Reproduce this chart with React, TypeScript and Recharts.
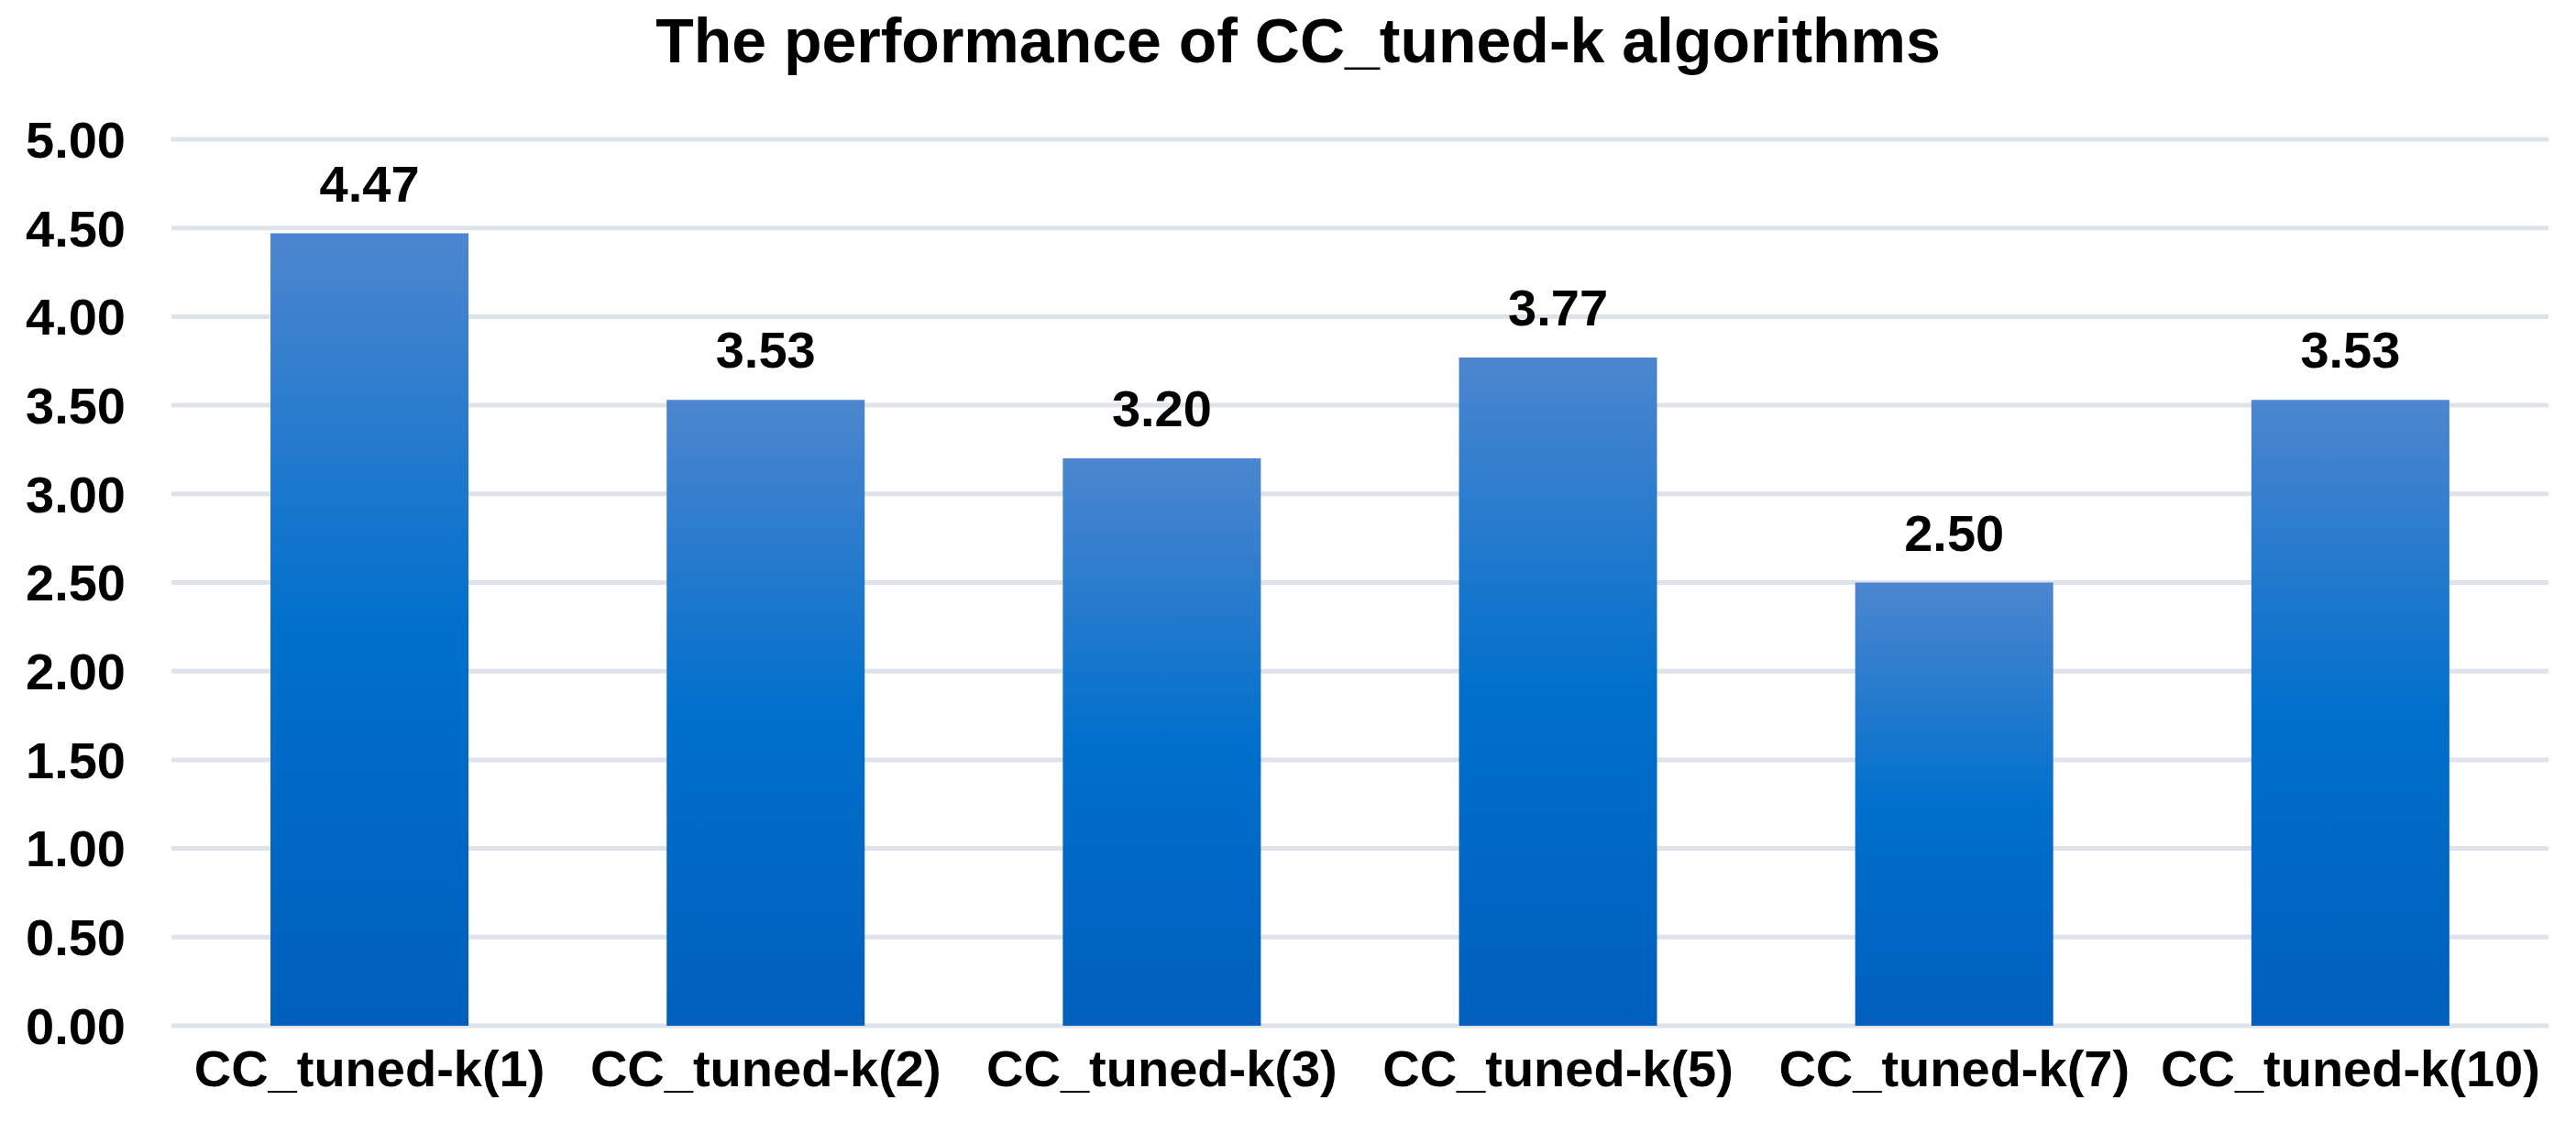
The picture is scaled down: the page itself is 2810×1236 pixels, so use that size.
import React from "react";
import {
  BarChart,
  Bar,
  XAxis,
  YAxis,
  CartesianGrid,
  LabelList,
} from "recharts";

const categories = [
  "CC_tuned-k(1)",
  "CC_tuned-k(2)",
  "CC_tuned-k(3)",
  "CC_tuned-k(5)",
  "CC_tuned-k(7)",
  "CC_tuned-k(10)",
];
const scores = [4.47, 3.53, 3.2, 3.77, 2.5, 3.53];
const yTicks = [0, 0.5, 1, 1.5, 2, 2.5, 3, 3.5, 4, 4.5, 5];

const title = "The performance of CC_tuned-k algorithms";
const font = "'Liberation Sans', Arial, Helvetica, sans-serif";

const data = categories.map((name, i) => ({ name, value: scores[i] }));

export default function App() {
  return (
    <div
      style={{
        position: "absolute",
        left: 0,
        top: 0,
        width: 2810,
        height: 1236,
        background: "#fff",
        fontFamily: font,
      }}
    >
      <div
        style={{
          position: "absolute",
          left: 416,
          top: 10,
          width: 2000,
          textAlign: "center",
          fontSize: 68,
          lineHeight: "68px",
          fontWeight: 700,
          color: "#000",
        }}
      >
        {title}
      </div>
      <BarChart
        width={2810}
        height={1236}
        data={data}
        margin={{ top: 152, right: 30, left: 0, bottom: 0 }}
        barCategoryGap="25%"
      >
        <defs>
          <linearGradient id="barFill" x1="0" y1="0" x2="0" y2="1">
            <stop offset="0%" stopColor="#4d86cf" />
            <stop offset="50%" stopColor="#0070cc" />
            <stop offset="100%" stopColor="#005fbd" />
          </linearGradient>
        </defs>
        <CartesianGrid vertical={false} stroke="#dee3e9" strokeWidth={5} />
        <XAxis
          dataKey="name"
          height={117}
          interval={0}
          tickLine={false}
          axisLine={false}
          tickMargin={20}
          tick={{ fontSize: 56, fontWeight: 700, fill: "#000", fontFamily: font }}
        />
        <YAxis
          width={187}
          domain={[0, 5]}
          ticks={yTicks}
          tickFormatter={(v: number) => v.toFixed(2)}
          tickLine={false}
          axisLine={false}
          tickMargin={44}
          tick={{ fontSize: 56, fontWeight: 700, fill: "#000", fontFamily: font }}
        />
        <Bar dataKey="value" fill="url(#barFill)" isAnimationActive={false}>
          <LabelList
            dataKey="value"
            position="top"
            offset={35}
            formatter={(v: number) => v.toFixed(2)}
            style={{ fontSize: 56, fontWeight: 700, fill: "#000", fontFamily: font }}
          />
        </Bar>
      </BarChart>
    </div>
  );
}
